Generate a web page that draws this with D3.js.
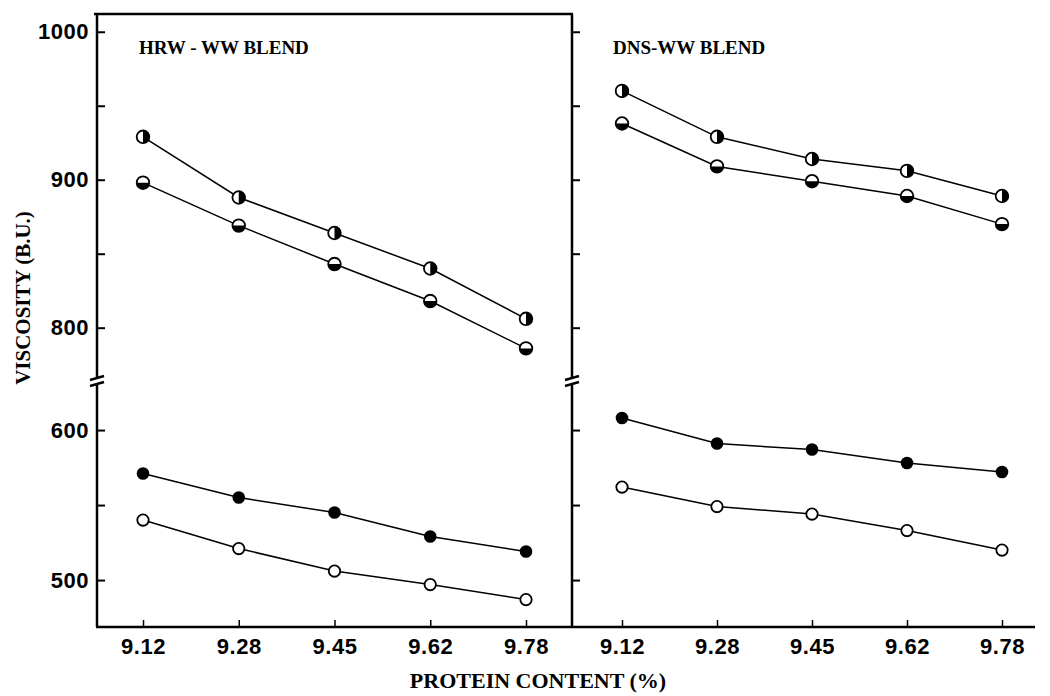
<!DOCTYPE html>
<html>
<head>
<meta charset="utf-8">
<script src="https://cdn.jsdelivr.net/npm/d3@7"></script>
<style>
  body { margin: 0; background: #fff; }
  svg { display: block; }
  .tick text { font-family: "Liberation Sans", Arial, sans-serif; font-size: 22px; font-weight: bold; fill: #000; }
  .title { font-family: "Liberation Serif", "Times New Roman", serif; font-weight: bold; fill: #000; }
</style>
</head>
<body>
<div id="chart"></div>
<script>
// protein content categories (same for both panels)
var proteinLabels = ["9.12", "9.28", "9.45", "9.62", "9.78"];

// HRW - WW blend, viscosity (B.U.)
var hrwHalfLeft = [929, 888, 864, 840, 806];   // half filled, left half white
var hrwHalfTop  = [898, 869, 843, 818, 786];   // half filled, top half white
var hrwFilled   = [571, 555, 545, 529, 519];
var hrwOpen     = [540, 521, 506, 497, 487];

// DNS - WW blend
var dnsHalfLeft = [960, 929, 914, 906, 889];
var dnsHalfTop  = [938, 909, 899, 889, 870];
var dnsFilled   = [608, 591, 587, 578, 572];
var dnsOpen     = [562, 549, 544, 533, 520];

var upperTicks = [800, 850, 900, 950, 1000];
var lowerTicks = [500, 550, 600];
var labelledTicks = [500, 600, 800, 900, 1000];

var width = 1050, height = 696;
var svg = d3.select("#chart").append("svg")
    .attr("width", width)
    .attr("height", height);

// broken y axis: two scales, upper and lower
var yUpper = d3.scaleLinear().domain([766, 1012]).range([378, 14]);
var yLower = d3.scaleLinear().domain([468.7, 630.7]).range([627, 384]);
var bottomY = 627;

var panels = [
    { x0: 97, x1: 572, xr: [143, 526], title: "HRW - WW BLEND", titleX: 139, labels: true,
      series: [
        { values: hrwHalfLeft, y: yUpper, marker: "halfLeft" },
        { values: hrwHalfTop,  y: yUpper, marker: "halfTop" },
        { values: hrwFilled,   y: yLower, marker: "filled" },
        { values: hrwOpen,     y: yLower, marker: "open" }
      ] },
    { x0: 572, x1: 1035, xr: [622, 1002], title: "DNS-WW BLEND", titleX: 613, labels: false,
      series: [
        { values: dnsHalfLeft, y: yUpper, marker: "halfLeft" },
        { values: dnsHalfTop,  y: yUpper, marker: "halfTop" },
        { values: dnsFilled,   y: yLower, marker: "filled" },
        { values: dnsOpen,     y: yLower, marker: "open" }
      ] }
];

function fmt(d) { return labelledTicks.indexOf(d) >= 0 ? d : ""; }

function drawMarker(g, type) {
    var r = 6.3;
    if (type == "filled") {
        g.append("circle").attr("r", r).attr("fill", "#000");
        return;
    }
    g.append("circle").attr("r", type == "open" ? 5.7 : r)
        .attr("fill", "#fff").attr("stroke", "#000").attr("stroke-width", 1.8);
    if (type == "halfLeft") {
        g.append("path").attr("d", "M0," + (-r) + "A" + r + "," + r + " 0 0 1 0," + r + "Z").attr("fill", "#000");
    } else if (type == "halfTop") {
        g.append("path").attr("d", "M" + (-r) + ",0A" + r + "," + r + " 0 0 0 " + r + ",0Z").attr("fill", "#000");
    }
}

panels.forEach(function (p) {
    var x = d3.scalePoint().domain(proteinLabels).range(p.xr);
    var g = svg.append("g");

    // vertical axis line with break marks
    var ax = p.x0;
    g.append("line").attr("x1", ax).attr("x2", ax).attr("y1", 14).attr("y2", yUpper.range()[0]);
    g.append("line").attr("x1", ax).attr("x2", ax).attr("y1", yLower.range()[1]).attr("y2", bottomY);
    [yUpper.range()[0], yLower.range()[1]].forEach(function (by) {
        g.append("line").attr("x1", ax - 7).attr("y1", by + 2).attr("x2", ax + 7).attr("y2", by - 2);
    });
    g.selectAll("line").attr("stroke", "#000").attr("stroke-width", 2.5);

    // y ticks pointing inward
    [[yUpper, upperTicks], [yLower, lowerTicks]].forEach(function (s) {
        var a = svg.append("g")
            .attr("transform", "translate(" + ax + ",0)")
            .call(d3.axisLeft(s[0]).tickValues(s[1]).tickSizeInner(-8).tickSizeOuter(0)
                .tickPadding(8).tickFormat(p.labels ? fmt : function () { return ""; }));
        a.select(".domain").remove();
        a.selectAll(".tick line").attr("stroke-width", 2);
        a.selectAll(".tick text").attr("letter-spacing", "0.5px");
    });

    // x axis ticks pointing up
    var xa = svg.append("g")
        .attr("transform", "translate(0," + bottomY + ")")
        .call(d3.axisBottom(x).tickSizeInner(-7).tickSizeOuter(0).tickPadding(11));
    xa.select(".domain").remove();
    xa.selectAll(".tick line").attr("stroke-width", 1.5);
    xa.selectAll(".tick text").attr("letter-spacing", "0.5px");

    // panel title
    svg.append("text").attr("class", "title")
        .attr("x", p.titleX).attr("y", 54)
        .attr("font-size", 19)
        .text(p.title);

    // series
    p.series.forEach(function (s) {
        var line = d3.line()
            .x(function (d, i) { return x(proteinLabels[i]); })
            .y(function (d) { return s.y(d); });
        svg.append("path")
            .attr("d", line(s.values))
            .attr("fill", "none")
            .attr("stroke", "#000")
            .attr("stroke-width", 1.5);
        s.values.forEach(function (v, i) {
            var m = svg.append("g")
                .attr("transform", "translate(" + x(proteinLabels[i]) + "," + s.y(v) + ")");
            drawMarker(m, s.marker);
        });
    });
});

// frame: top border of left panel and bottom axis
svg.append("line").attr("x1", 94).attr("x2", 573).attr("y1", 14).attr("y2", 14)
    .attr("stroke", "#000").attr("stroke-width", 2.5);
svg.append("line").attr("x1", 96).attr("x2", 1035).attr("y1", bottomY).attr("y2", bottomY)
    .attr("stroke", "#000").attr("stroke-width", 2.5);

// axis titles
svg.append("text").attr("class", "title")
    .attr("transform", "translate(30,298) rotate(-90)")
    .attr("text-anchor", "middle")
    .attr("font-size", 21)
    .text("VISCOSITY (B.U.)");

svg.append("text").attr("class", "title")
    .attr("x", 538).attr("y", 688)
    .attr("text-anchor", "middle")
    .attr("font-size", 22)
    .text("PROTEIN CONTENT (%)");
</script>
</body>
</html>
